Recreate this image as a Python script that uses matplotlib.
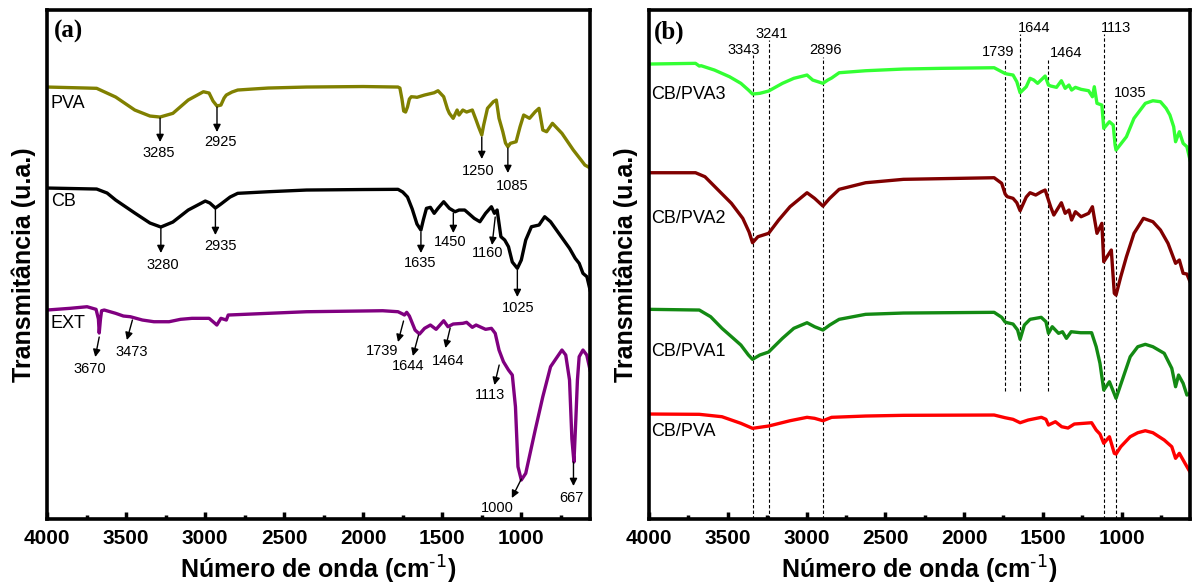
import matplotlib.pyplot as plt

plt.rcParams['font.family'] = ['Liberation Sans', 'DejaVu Sans']
plt.rcParams['mathtext.default'] = 'regular'

# ---- spectra, panel (a): (wavenumber cm-1, transmittance a.u.) ----
pva = [(4000, 432), (3750, 431), (3686, 430.7), (3566, 422), (3445, 409), (3349, 403),
       (3285, 402), (3204, 405.7), (3107, 419), (3011, 427.3), (2975, 426), (2950, 418),
       (2925, 413), (2900, 414), (2880, 421), (2866, 424), (2830, 427), (2794, 429),
       (2700, 430), (2601, 431), (2359, 432), (2000, 432.5), (1780, 432), (1768, 431),
       (1755, 420), (1744, 408), (1732, 407), (1720, 412), (1708, 420), (1696, 422.3),
       (1672, 422), (1660, 421.7), (1612, 424), (1551, 426.3), (1527, 428.3), (1491, 422.3),
       (1467, 410), (1455, 405.7), (1431, 400.7), (1406, 409), (1394, 404), (1370, 409),
       (1346, 407), (1310, 409), (1286, 399), (1270, 392), (1250, 384), (1238, 394),
       (1214, 410.7), (1177, 417.3), (1158, 419), (1141, 400.7), (1117, 387.3), (1100, 376),
       (1085, 372.3), (1069, 375.7), (1033, 377.3), (1008, 392.3), (985, 404), (948, 400.7),
       (912, 407.3), (888, 410.7), (864, 389), (840, 387.3), (803, 395.7), (743, 385.7),
       (671, 369), (622, 359), (598, 354), (575, 352), (565, 350.7)]

cb = [(4000, 331), (3686, 330), (3620, 326), (3566, 319), (3445, 306), (3349, 296),
      (3280, 292), (3204, 297), (3107, 309), (2999, 318), (2970, 316), (2935, 311),
      (2900, 315), (2842, 322), (2794, 325.7), (2601, 327.3), (2359, 329), (2000, 329.5),
      (1780, 329.7), (1750, 327), (1720, 322), (1690, 310), (1660, 295), (1635, 289),
      (1620, 299), (1600, 310.7), (1575, 311.7), (1551, 305.7), (1527, 310.7), (1491, 317.3),
      (1455, 310.7), (1419, 307.3), (1394, 309), (1358, 309), (1334, 305.7), (1298, 300.7),
      (1262, 297.3), (1226, 305.7), (1189, 312.3), (1170, 305.7), (1153, 309), (1129, 282.3),
      (1105, 279), (1081, 272.3), (1057, 257), (1025, 250.7), (1000, 259), (972, 279),
      (936, 292.3), (888, 294), (852, 302.3), (815, 297.3), (755, 284), (695, 270.7),
      (659, 260.7), (634, 255.7), (610, 245.7), (585, 242.3), (565, 229)]

ext = [(4000, 209), (3855, 210.7), (3747, 212.3), (3690, 209.7), (3675, 200), (3670, 186),
       (3662, 200), (3655, 208.3), (3638, 209), (3566, 205.7), (3517, 203), (3473, 202.3),
       (3397, 199), (3324, 197.3), (3228, 197.3), (3156, 199.7), (3083, 200.7), (2975, 200.7),
       (2940, 196), (2926, 194), (2900, 200.7), (2866, 199), (2854, 204), (2601, 205.7),
       (2359, 207.3), (1877, 208.3), (1780, 207.3), (1750, 205), (1739, 204), (1725, 206.7),
       (1708, 203), (1672, 189), (1644, 185), (1612, 190.7), (1575, 194), (1539, 189.7),
       (1491, 198.3), (1464, 192.3), (1431, 195), (1370, 195.7), (1346, 196.7), (1310, 191.7),
       (1286, 194), (1226, 189.7), (1189, 190.7), (1165, 185.7), (1141, 169), (1113, 157.3),
       (1081, 149), (1057, 144), (1037, 112.3), (1021, 52.3), (1000, 39), (972, 45.7),
       (912, 89), (864, 122.3), (815, 152.3), (779, 160.7), (743, 169), (719, 164),
       (695, 139), (680, 80), (667, 57), (655, 100), (645, 139), (634, 162.3), (610, 169),
       (586, 164), (565, 149)]

# ---- spectra, panel (b) ----
cb_pva3 = [(4000, 455), (3705, 455.7), (3681, 453), (3669, 453.3), (3585, 449), (3489, 442.3),
           (3417, 435.7), (3369, 429), (3343, 425), (3297, 425.7), (3241, 428), (3153, 435.7),
           (3081, 440.7), (2997, 444), (2961, 439), (2896, 435.7), (2865, 439), (2841, 441),
           (2793, 446.3), (2625, 448.3), (2385, 450), (2145, 450.7), (1809, 451.3), (1761, 447.3),
           (1739, 445.5), (1725, 445), (1689, 444), (1665, 437.3), (1644, 426.3), (1605, 432.3),
           (1581, 440.7), (1557, 439), (1533, 435.7), (1485, 443), (1464, 434), (1449, 433),
           (1413, 431.7), (1382, 438.3), (1358, 430.7), (1334, 434), (1317, 429), (1293, 431.7),
           (1257, 429.7), (1209, 428.3), (1185, 422.3), (1173, 432.3), (1156, 415.7),
           (1125, 414), (1113, 390.7), (1077, 397.3), (1053, 394), (1041, 374), (1035, 369),
           (1005, 375), (969, 382.3), (921, 400.7), (849, 415.7), (801, 418.3), (753, 417.3),
           (717, 410.7), (693, 404), (669, 392.3), (657, 377.3), (633, 387.3), (609, 375.7),
           (585, 372.3), (565, 359)]

cb_pva2 = [(4000, 346.3), (3705, 346.3), (3645, 342.3), (3561, 329), (3477, 315.7), (3405, 300.7),
           (3365, 287), (3343, 276.3), (3309, 282.3), (3241, 285.7), (3177, 299), (3105, 312.3),
           (2997, 326.3), (2949, 320.7), (2896, 313), (2853, 320.7), (2793, 329.7), (2625, 336.3),
           (2385, 339.7), (1809, 341.3), (1761, 335.7), (1739, 325), (1725, 322.3), (1689, 320.7),
           (1665, 316.3), (1644, 308.3), (1605, 322), (1581, 326.3), (1545, 324), (1509, 327.3),
           (1485, 329), (1449, 311.7), (1430, 304), (1382, 316.3), (1358, 305.7), (1334, 309),
           (1317, 299), (1293, 307.3), (1257, 302.3), (1209, 305.7), (1185, 312.3), (1156, 285.7),
           (1125, 295.7), (1113, 257.3), (1065, 269), (1046, 225.7), (1035, 224), (1005, 242.3),
           (969, 262.3), (921, 285.7), (861, 300.7), (801, 297.3), (753, 289), (705, 275.7),
           (657, 255.7), (633, 259), (609, 245.7), (585, 245), (565, 237.3)]

cb_pva1 = [(4000, 209.7), (3681, 209), (3609, 202.3), (3537, 190.7), (3465, 180.7), (3417, 174),
           (3369, 164), (3343, 159.7), (3297, 164), (3241, 167), (3153, 180.7), (3081, 190.7),
           (2997, 196.3), (2949, 192.3), (2896, 189), (2853, 194), (2793, 199.7), (2625, 204.7),
           (2385, 206), (1809, 206.7), (1761, 201.7), (1739, 197), (1725, 196.3), (1689, 195),
           (1660, 189), (1644, 179.7), (1617, 194), (1581, 199.7), (1510, 201.7), (1480, 197.3),
           (1464, 185.7), (1440, 192.3), (1400, 185.7), (1375, 187.3), (1350, 180.7),
           (1320, 187.3), (1260, 186.3), (1190, 186.3), (1161, 172.3), (1137, 155.7),
           (1113, 129), (1077, 137.3), (1035, 120.7), (1017, 129), (981, 145.7), (945, 162.3),
           (897, 172.3), (849, 174.7), (801, 172.3), (729, 165.7), (681, 150.7), (657, 132.3),
           (638, 144), (609, 135.7), (585, 124), (565, 125.7)]

cb_pva = [(4000, 105), (3681, 104.7), (3537, 102.3), (3417, 95.7), (3343, 90.7), (3241, 93),
          (3105, 98.3), (2997, 101.7), (2949, 100.7), (2896, 98.3), (2841, 101.7), (2625, 103),
          (2385, 103.7), (1809, 104), (1739, 101.3), (1689, 99.7), (1644, 96.3), (1593, 99),
          (1509, 101.7), (1480, 99.7), (1464, 94), (1420, 97.3), (1380, 92.3), (1340, 91),
          (1300, 95), (1190, 96.3), (1161, 89), (1137, 85), (1113, 75.7), (1077, 82.3),
          (1046, 65.7), (1035, 65), (1005, 72.3), (945, 82.3), (897, 86.3), (849, 88.3),
          (801, 86.3), (729, 79), (681, 72.3), (657, 60.7), (633, 65.7), (597, 55.7), (565, 47)]

# band labels with arrows in (a): value, arrow tail, arrow head, text position
bands_a = [
    ('3285', (3285, 401), (3285, 377), (3296, 366)),
    ('2925', (2925, 412), (2925, 387), (2905, 377)),
    ('1250', (1250, 382), (1250, 360), (1272, 348)),
    ('1085', (1085, 371), (1085, 346), (1060, 333)),
    ('3280', (3280, 291), (3280, 266), (3270, 254)),
    ('2935', (2935, 310), (2935, 284), (2900, 273)),
    ('1635', (1635, 287), (1635, 266), (1640, 256)),
    ('1450', (1430, 306), (1430, 286), (1450, 277)),
    ('1160', (1165, 302), (1185, 274), (1210, 266)),
    ('1025', (1025, 249), (1025, 222), (1020, 211)),
    ('3670', (3670, 182), (3695, 162), (3730, 150)),
    ('3473', (3460, 199), (3495, 179), (3465, 167)),
    ('1739', (1745, 198), (1780, 177), (1880, 168)),
    ('1644', (1650, 184), (1686, 163), (1715, 153)),
    ('1464', (1450, 191), (1480, 171), (1465, 158)),
    ('1113', (1140, 154), (1170, 134), (1200, 124)),
    ('1000', (1000, 40), (1060, 21), (1150, 11)),
    ('667', (670, 57), (670, 33), (683, 21)),
]

# dashed band markers in (b): value, top, bottom, text position
bands_b = [
    (3343, 464, 0, (3400, 469)),
    (3241, 479, 0, (3222, 485)),
    (2896, 462, 0, (2879, 469)),
    (1739, 461, 128, (1786, 467)),
    (1644, 485, 128, (1554, 491)),
    (1464, 459, 128, (1350, 466)),
    (1113, 485, 0, (1037, 491)),
    (1035, 419, 0, (946, 426)),
]


def style_axes(ax):
    ax.set_xlim(4000, 565)
    ax.set_ylim(0, 509)
    ax.set_xticks([4000, 3500, 3000, 2500, 2000, 1500, 1000])
    ax.set_xticks([3750, 3250, 2750, 2250, 1750, 1250, 750], minor=True)
    ax.set_yticks([])
    ax.tick_params(axis='x', which='major', direction='in', length=5, width=2.5,
                   labelsize=15, pad=7)
    ax.tick_params(axis='x', which='minor', direction='in', length=3, width=2.5)
    for lab in ax.get_xticklabels():
        lab.set_fontweight('bold')
    for sp in ax.spines.values():
        sp.set_linewidth(2.6)
    ax.set_xlabel(r'Número de onda (cm$^{\text{-1}}$)', fontsize=18, fontweight='bold',
                  labelpad=4)
    ax.set_ylabel('Transmitância (u.a.)', fontsize=18, fontweight='bold', labelpad=8)


def draw(ax, data, color, lw=2.4):
    x = [p[0] for p in data]
    y = [p[1] for p in data]
    ax.plot(x, y, color=color, lw=lw, solid_joinstyle='round')


fig = plt.figure(figsize=(11.94, 5.87), dpi=100)
ax_a = fig.add_axes([0.0394, 0.1158, 0.4548, 0.8671])
ax_b = fig.add_axes([0.5436, 0.1158, 0.4531, 0.8671])

# ---- panel (a) ----
style_axes(ax_a)
draw(ax_a, pva, '#808000')
draw(ax_a, cb, 'black')
draw(ax_a, ext, '#800080')
ax_a.text(3975, 416, 'PVA', fontsize=13, va='center')
ax_a.text(3975, 318, 'CB', fontsize=13, va='center')
ax_a.text(3975, 196, 'EXT', fontsize=13, va='center')
for label, tail, head, tpos in bands_a:
    ax_a.annotate('', xy=head, xytext=tail,
                  arrowprops=dict(arrowstyle='-|>', color='black', lw=1.0,
                                  mutation_scale=11, shrinkA=0, shrinkB=0))
    ax_a.text(tpos[0], tpos[1], label, fontsize=10.5, ha='center', va='center')
ax_a.text(0.012, 0.957, '(a)', transform=ax_a.transAxes, fontsize=18,
          fontweight='bold', family='Liberation Serif', va='center')

# ---- panel (b) ----
style_axes(ax_b)
for wn, top, bottom, tpos in bands_b:
    ax_b.plot([wn, wn], [bottom, top], color='black', lw=0.8, ls=(0, (3, 2)))
    ax_b.text(tpos[0], tpos[1], str(wn), fontsize=10.5, ha='center', va='center')
draw(ax_b, cb_pva3, '#33ff33')
draw(ax_b, cb_pva2, '#800000')
draw(ax_b, cb_pva1, '#138a13')
draw(ax_b, cb_pva, '#ff0000')
ax_b.text(3985, 425, 'CB/PVA3', fontsize=13, va='center')
ax_b.text(3985, 301, 'CB/PVA2', fontsize=13, va='center')
ax_b.text(3985, 168, 'CB/PVA1', fontsize=13, va='center')
ax_b.text(3985, 88, 'CB/PVA', fontsize=13, va='center')
ax_b.text(0.008, 0.957, '(b)', transform=ax_b.transAxes, fontsize=18,
          fontweight='bold', family='Liberation Serif', va='center')

fig.savefig('out.png', dpi=100)
